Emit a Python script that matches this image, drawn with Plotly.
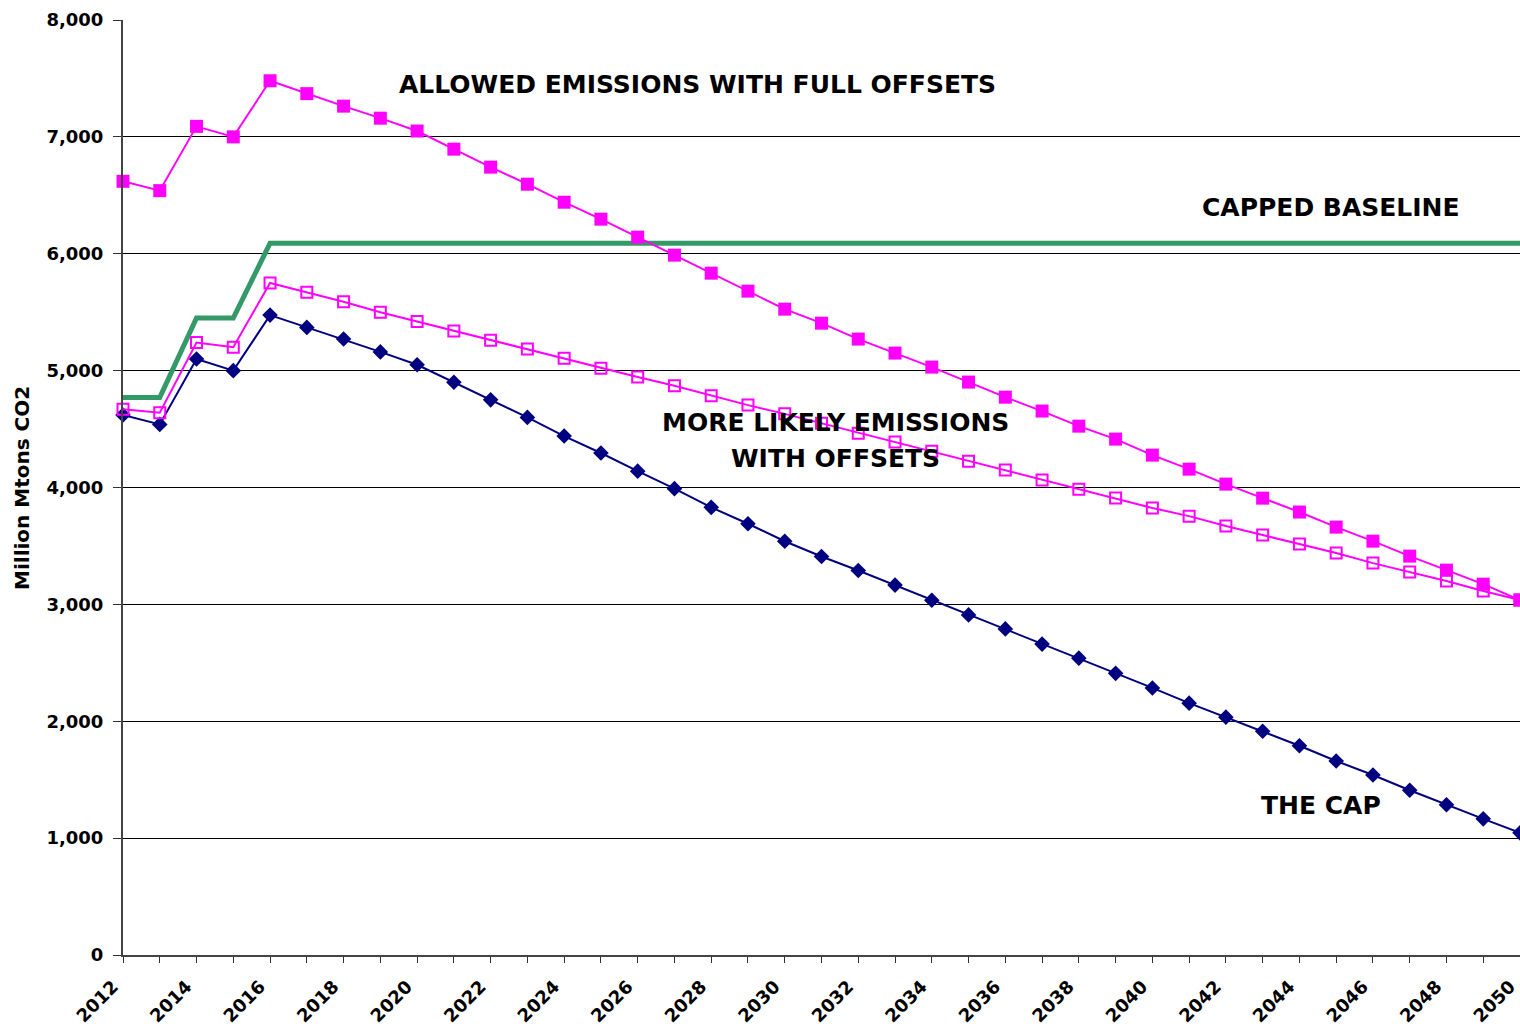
import plotly.graph_objects as go

years = list(range(2012, 2051))

the_cap = [4620, 4540, 5100, 5000, 5475, 5370, 5270, 5160, 5050, 4900,
           4750, 4600, 4440, 4295, 4140, 3990, 3830, 3690, 3540, 3410,
           3290, 3165, 3035, 2910, 2790, 2660, 2540, 2410, 2285, 2155,
           2035, 1915, 1790, 1660, 1540, 1410, 1285, 1165, 1045]

more_likely = [4670, 4640, 5240, 5200, 5750, 5670, 5590, 5500, 5420, 5340,
               5260, 5185, 5105, 5020, 4945, 4870, 4785, 4705, 4630, 4550,
               4465, 4390, 4310, 4225, 4150, 4065, 3985, 3910, 3825, 3755,
               3670, 3593, 3516, 3439, 3353, 3276, 3200, 3114, 3037]

full_offsets = [6620, 6540, 7090, 7000, 7480, 7370, 7263, 7160, 7050, 6895,
                6741, 6595, 6441, 6296, 6142, 5988, 5834, 5680, 5526, 5406,
                5270, 5150, 5030, 4902, 4773, 4654, 4525, 4414, 4277, 4157,
                4029, 3909, 3790, 3661, 3541, 3413, 3293, 3173, 3037]

capped_baseline = [4770, 4770, 5450, 5450, 6090] + [6090] * 34

y_ticks = [0, 1000, 2000, 3000, 4000, 5000, 6000, 7000, 8000]
x_label_years = list(range(2012, 2051, 2))

FONT = "DejaVu Sans, Verdana, sans-serif"

fig = go.Figure()

fig.add_trace(go.Scatter(
    x=years, y=capped_baseline, mode="lines",
    line=dict(color="#339966", width=5), name="Capped baseline",
    cliponaxis=False))

fig.add_trace(go.Scatter(
    x=years, y=the_cap, mode="lines+markers",
    line=dict(color="#000080", width=2),
    marker=dict(symbol="diamond", size=12, color="#000080"),
    name="The cap", cliponaxis=False))

fig.add_trace(go.Scatter(
    x=years, y=more_likely, mode="lines+markers",
    line=dict(color="#FF00FF", width=2),
    marker=dict(symbol="square-open", size=11, color="#FF00FF",
                line=dict(width=2, color="#FF00FF")),
    name="More likely", cliponaxis=False))

fig.add_trace(go.Scatter(
    x=years, y=full_offsets, mode="lines+markers",
    line=dict(color="#FF00FF", width=2),
    marker=dict(symbol="square", size=13, color="#FF00FF"),
    name="Full offsets", cliponaxis=False))

ann_font = dict(family=FONT, size=25, color="black", weight="bold")
annotations = [
    dict(x=2027.64, y=7444, text="ALLOWED EMISSIONS WITH FULL OFFSETS"),
    dict(x=2044.86, y=6400, text="CAPPED BASELINE"),
    dict(x=2031.37, y=4552, text="MORE LIKELY EMISSIONS"),
    dict(x=2031.37, y=4244, text="WITH OFFSETS"),
    dict(x=2044.59, y=1283, text="THE CAP"),
]
for a in annotations:
    fig.add_annotation(x=a["x"], y=a["y"], text=a["text"], showarrow=False,
                       font=ann_font, xanchor="center", yanchor="middle",
                       align="center")

fig.add_annotation(
    xref="paper", yref="paper", x=-0.0723, y=0.4995, xanchor="center",
    yanchor="middle", text="Million Mtons CO2", textangle=-90,
    showarrow=False, font=dict(family=FONT, size=20, color="black", weight="bold"))

fig.update_layout(
    width=1520, height=1030,
    autosize=False,
    margin=dict(l=123, r=0, t=20, b=75, autoexpand=False),
    paper_bgcolor="white", plot_bgcolor="white",
    showlegend=False,
    font=dict(family=FONT, color="black"),
)

fig.update_xaxes(
    range=[2012, 2050],
    automargin=False,
    tickmode="array", tickvals=x_label_years,
    ticktext=[str(y) for y in x_label_years],
    tickangle=-45, ticks="outside", ticklen=6, tickcolor="#333333",
    tickfont=dict(family=FONT, size=18, color="black", weight="bold"),
    ticklabeloverflow="allow",
    ticklabelshift=-10, ticklabelstandoff=6,
    showgrid=False, zeroline=False,
    showline=True, linecolor="#444444", linewidth=2,
    minor=dict(dtick=1, tick0=2012, ticks="outside", ticklen=6,
               tickcolor="#333333", showgrid=False),
)

fig.update_yaxes(
    range=[0, 8000],
    automargin=False,
    tickmode="array", tickvals=y_ticks,
    ticktext=[f"{v:,}" for v in y_ticks],
    ticks="outside", ticklen=8, tickcolor="#333333",
    ticklabelstandoff=6,
    tickfont=dict(family=FONT, size=18, color="black", weight="bold"),
    showgrid=True, gridcolor="#000000", gridwidth=1,
    zeroline=False,
    showline=True, linecolor="#444444", linewidth=2,
)

fig.write_html(
    "out.html",
    config={"displayModeBar": False, "responsive": False},
    post_script="document.body.style.margin='0';document.body.style.overflow='hidden';",
)
